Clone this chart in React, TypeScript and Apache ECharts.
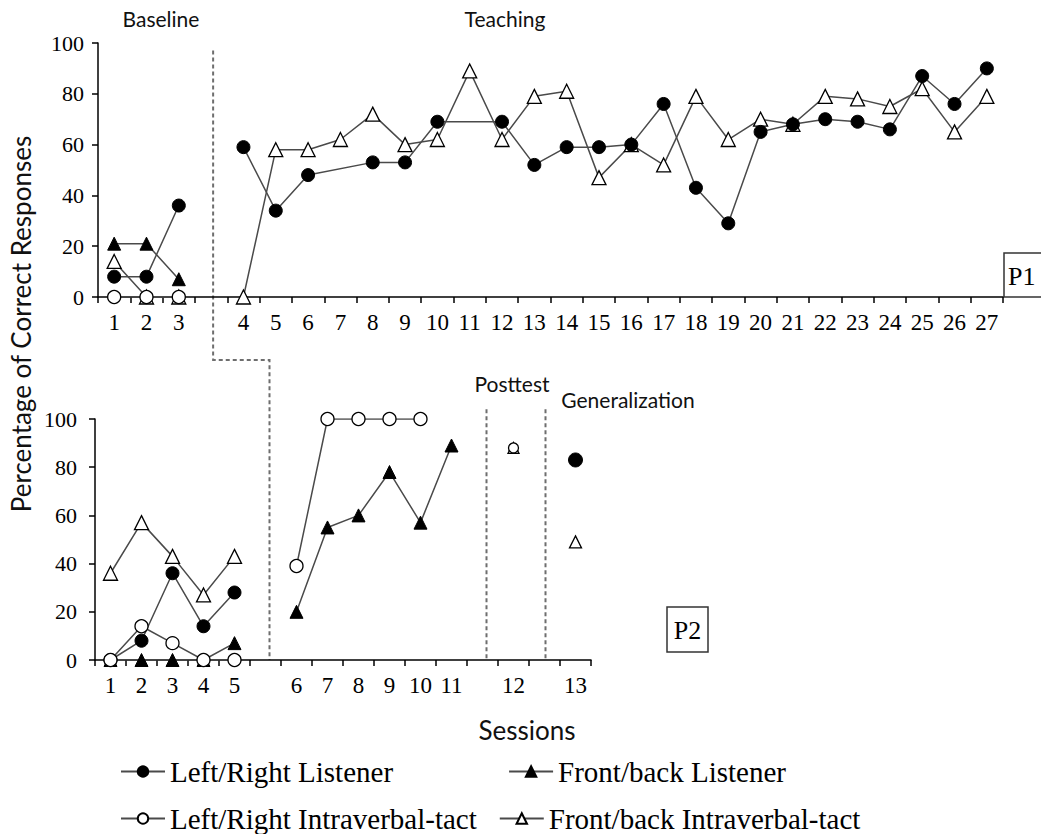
import React, { useEffect, useRef } from 'react';
import * as echarts from 'echarts';

// ---------- axis categories (blank slots mark phase changes) ----------
const P1_CATEGORIES = ['1', '2', '3', ' ', '4', '5', '6', '7', '8', '9', '10', '11', '12', '13', '14', '15', '16', '17', '18', '19', '20', '21', '22', '23', '24', '25', '26', '27'];
const P2_CATEGORIES = ['1', '2', '3', '4', '5', ' ', '6', '7', '8', '9', '10', '11', '  ', '12', '   ', '13'];
const Y_TICKS = [0, 20, 40, 60, 80, 100];

// ---------- series names ----------
const LR_LIS = 'Left/Right Listener';
const FB_LIS = 'Front/back Listener';
const LR_IVT = 'Left/Right Intraverbal-tact';
const FB_IVT = 'Front/back Intraverbal-tact';

// ---------- P1 data ----------
const P1_BASELINE_SESSIONS = ['1', '2', '3'];
const P1_BL_LR_LISTENER = [8, 8, 36];
const P1_BL_FB_LISTENER = [21, 21, 7];
const P1_BL_LR_IVT = [0, 0, 0];
const P1_BL_FB_IVT = [14, 0, 0];

const P1_TEACHING_SESSIONS = ['4', '5', '6', '7', '8', '9', '10', '11', '12', '13', '14', '15', '16', '17', '18', '19', '20', '21', '22', '23', '24', '25', '26', '27'];
const P1_TE_LR_LISTENER = [59, 34, 48, null, 53, 53, 69, null, 69, 52, 59, 59, 60, 76, 43, 29, 65, 68, 70, 69, 66, 87, 76, 90];
const P1_TE_FB_IVT = [0, 58, 58, 62, 72, 60, 62, 89, 62, 79, 81, 47, 60, 52, 79, 62, 70, 68, 79, 78, 75, 82, 65, 79];

// ---------- P2 data ----------
const P2_BASELINE_SESSIONS = ['1', '2', '3', '4', '5'];
const P2_BL_LR_LISTENER = [0, 8, 36, 14, 28];
const P2_BL_FB_LISTENER = [0, 0, 0, 0, 7];
const P2_BL_LR_IVT = [0, 14, 7, 0, 0];
const P2_BL_FB_IVT = [36, 57, 43, 27, 43];

const P2_TEACHING_SESSIONS = ['6', '7', '8', '9', '10', '11'];
const P2_TE_LR_IVT = [39, 100, 100, 100, 100, null];
const P2_TE_FB_LISTENER = [20, 55, 60, 78, 57, 89];

const P2_POSTTEST_SESSIONS = ['12'];
const P2_PT_LR_IVT = [88];
const P2_PT_FB_IVT = [88];

const P2_GENERAL_SESSIONS = ['13'];
const P2_GN_LR_LISTENER = [83];
const P2_GN_FB_IVT = [49];

// ---------- styles ----------
const SERIF = 'Liberation Serif';
const SANS = 'Lato';

const MARKERS: Record<string, any> = {
  [LR_LIS]: { symbol: 'circle', symbolSize: 13, itemStyle: { color: '#000', borderColor: '#000', borderWidth: 1 }, z: 4 },
  [FB_LIS]: { symbol: 'triangle', symbolSize: 13, itemStyle: { color: '#000', borderColor: '#000', borderWidth: 1 }, z: 3 },
  [LR_IVT]: { symbol: 'circle', symbolSize: 13, itemStyle: { color: '#fff', borderColor: '#000', borderWidth: 1.3 }, z: 5 },
  [FB_IVT]: { symbol: 'triangle', symbolSize: 14, itemStyle: { color: '#fff', borderColor: '#000', borderWidth: 1.3 }, z: 2 },
};

function pts(cats: string[], vals: (number | null)[]) {
  return cats.map((c, i) => [c, vals[i]]).filter((p) => p[1] !== null);
}

function mk(name: string, cats: string[], vals: (number | null)[], idx: number, size?: number) {
  const m = MARKERS[name];
  return {
    type: 'line',
    name,
    xAxisIndex: idx,
    yAxisIndex: idx,
    data: pts(cats, vals),
    connectNulls: true,
    silent: true,
    symbol: m.symbol,
    symbolSize: size ?? m.symbolSize,
    itemStyle: m.itemStyle,
    z: m.z,
    lineStyle: { color: '#4a4a4a', width: 1.5 },
    emphasis: { disabled: true },
  };
}

function xAxis(idx: number, data: string[]) {
  return {
    type: 'category',
    gridIndex: idx,
    data,
    boundaryGap: true,
    axisLine: { show: true, lineStyle: { color: '#000', width: 1.5 } },
    axisTick: { show: true, interval: 0, length: 6, lineStyle: { color: '#000', width: 1.5 } },
    axisLabel: { interval: 0, margin: 14, color: '#000', fontFamily: SERIF, fontSize: 23 },
    splitLine: { show: false },
  };
}

function yAxis(idx: number, margin: number) {
  return {
    type: 'value',
    gridIndex: idx,
    min: Y_TICKS[0],
    max: Y_TICKS[Y_TICKS.length - 1],
    interval: Y_TICKS[1] - Y_TICKS[0],
    axisLine: { show: true, lineStyle: { color: '#000', width: 1.5 } },
    axisTick: { show: true, length: 6, lineStyle: { color: '#000', width: 1.5 } },
    axisLabel: { margin, color: '#000', fontFamily: SERIF, fontSize: 22 },
    splitLine: { show: false },
  };
}

export default function App() {
  const ref = useRef<HTMLDivElement>(null);

  useEffect(() => {
    if (!ref.current) return;
    const chart = echarts.init(ref.current, null, { renderer: 'svg' });

    const series = [
      // P1 baseline
      mk(FB_IVT, P1_BASELINE_SESSIONS, P1_BL_FB_IVT, 0),
      mk(FB_LIS, P1_BASELINE_SESSIONS, P1_BL_FB_LISTENER, 0),
      mk(LR_LIS, P1_BASELINE_SESSIONS, P1_BL_LR_LISTENER, 0),
      mk(LR_IVT, P1_BASELINE_SESSIONS, P1_BL_LR_IVT, 0),
      // P1 teaching
      mk(FB_IVT, P1_TEACHING_SESSIONS, P1_TE_FB_IVT, 0),
      mk(LR_LIS, P1_TEACHING_SESSIONS, P1_TE_LR_LISTENER, 0),
      // P2 baseline
      mk(FB_IVT, P2_BASELINE_SESSIONS, P2_BL_FB_IVT, 1),
      mk(FB_LIS, P2_BASELINE_SESSIONS, P2_BL_FB_LISTENER, 1),
      mk(LR_LIS, P2_BASELINE_SESSIONS, P2_BL_LR_LISTENER, 1),
      mk(LR_IVT, P2_BASELINE_SESSIONS, P2_BL_LR_IVT, 1),
      // P2 teaching
      mk(LR_IVT, P2_TEACHING_SESSIONS, P2_TE_LR_IVT, 1),
      mk(FB_LIS, P2_TEACHING_SESSIONS, P2_TE_FB_LISTENER, 1),
      // P2 posttest
      mk(FB_IVT, P2_POSTTEST_SESSIONS, P2_PT_FB_IVT, 1, 11),
      mk(LR_IVT, P2_POSTTEST_SESSIONS, P2_PT_LR_IVT, 1, 10),
      // P2 generalization
      mk(LR_LIS, P2_GENERAL_SESSIONS, P2_GN_LR_LISTENER, 1, 14),
      mk(FB_IVT, P2_GENERAL_SESSIONS, P2_GN_FB_IVT, 1, 12),
    ];

    const legendText = { fontFamily: SERIF, fontSize: 29, lineHeight: 29, color: '#000' };

    chart.setOption({
      animation: false,
      backgroundColor: '#fff',
      grid: [
        { left: 98, right: 38, top: 43, height: 254 },
        { left: 95, width: 496, top: 419, height: 241 },
      ],
      xAxis: [xAxis(0, P1_CATEGORIES), xAxis(1, P2_CATEGORIES)],
      yAxis: [yAxis(0, 14), yAxis(1, 18)],
      legend: [
        {
          data: [LR_LIS, FB_LIS],
          left: 120,
          top: 757,
          padding: 0,
          itemGap: 115,
          itemWidth: 44,
          itemHeight: 13,
          selectedMode: false,
          textStyle: legendText,
        },
        {
          data: [LR_IVT, FB_IVT],
          left: 120,
          top: 804,
          padding: 0,
          itemGap: 22,
          itemWidth: 44,
          itemHeight: 13,
          selectedMode: false,
          textStyle: legendText,
        },
      ],
      series,
    });

    // phase-change lines and annotations
    const xTopGap = chart.convertToPixel({ xAxisIndex: 0 }, 3) as number;
    const xBotGap1 = chart.convertToPixel({ xAxisIndex: 1 }, 5) as number;
    const xBotGap2 = chart.convertToPixel({ xAxisIndex: 1 }, 12) as number;
    const xBotGap3 = chart.convertToPixel({ xAxisIndex: 1 }, 14) as number;
    const yTopStart = chart.convertToPixel({ yAxisIndex: 0 }, 97) as number;
    const yTopZero = chart.convertToPixel({ yAxisIndex: 0 }, 0) as number;
    const yBotZero = chart.convertToPixel({ yAxisIndex: 1 }, 0) as number;
    const yBotStart = chart.convertToPixel({ yAxisIndex: 1 }, 104) as number;
    const yStep = yTopZero + 63;

    const dash = { stroke: '#6e6e6e', lineWidth: 2, lineDash: [4, 3], fill: null };
    const label = (text: string, x: number, y: number, size: number, extra: any = {}) => ({
      type: 'text',
      x,
      y,
      silent: true,
      style: { text, fill: '#111', font: `${size}px ${SANS}`, align: 'center', verticalAlign: 'middle', ...extra },
    });

    chart.setOption({
      graphic: {
        elements: [
          {
            type: 'polyline',
            silent: true,
            shape: { points: [[xTopGap + 2, yTopStart], [xTopGap + 2, yStep], [xBotGap1 + 4, yStep], [xBotGap1 + 4, yBotZero]] },
            style: dash,
          },
          { type: 'line', silent: true, shape: { x1: xBotGap2 + 4, y1: yBotStart, x2: xBotGap2 + 4, y2: yBotZero }, style: dash },
          { type: 'line', silent: true, shape: { x1: xBotGap3 + 1, y1: yBotStart, x2: xBotGap3 + 1, y2: yBotZero }, style: dash },
          label('Baseline', 161, 18, 21),
          label('Teaching', 505, 18, 21),
          label('Posttest', 512, 383, 21),
          label('Generalization', 628, 399, 21),
          label('Sessions', 527, 730, 26),
          { ...label('Percentage of Correct Responses', 21, 324, 26), rotation: Math.PI / 2 },
          { type: 'rect', silent: true, shape: { x: 1004, y: 253, width: 50, height: 44 }, style: { fill: '#fff', stroke: '#333', lineWidth: 1.5 } },
          { type: 'text', silent: true, x: 1008, y: 276, style: { text: 'P1', fill: '#000', font: `26px ${SERIF}`, align: 'left', verticalAlign: 'middle' } },
          { type: 'rect', silent: true, shape: { x: 667, y: 607, width: 41, height: 45 }, style: { fill: '#fff', stroke: '#333', lineWidth: 1.5 } },
          { type: 'text', silent: true, x: 687.5, y: 630, style: { text: 'P2', fill: '#000', font: `26px ${SERIF}`, align: 'center', verticalAlign: 'middle' } },
        ],
      },
    });

    return () => chart.dispose();
  }, []);

  return <div ref={ref} style={{ position: 'fixed', left: 0, top: 0, width: 1041, height: 834, background: '#fff' }} />;
}
